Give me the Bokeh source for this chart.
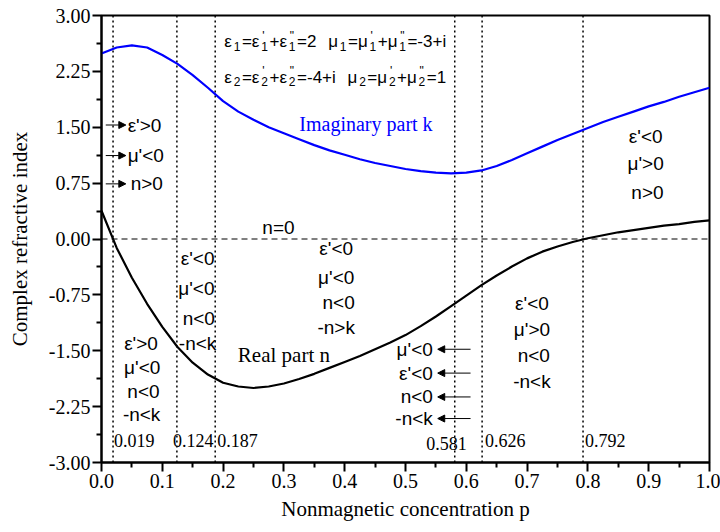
from bokeh.plotting import figure
from bokeh.models import Range1d, FixedTicker, PrintfTickFormatter, Span, Arrow, NormalHead, ColumnDataSource
from bokeh.core.properties import value
from bokeh.embed import file_html
from bokeh.resources import INLINE

# ---------------- data ----------------
p_conc = [0.0, 0.025, 0.05, 0.075, 0.1, 0.125, 0.15, 0.175, 0.2, 0.225,
          0.25, 0.275, 0.3, 0.325, 0.35, 0.375, 0.4, 0.425, 0.45, 0.475,
          0.5, 0.525, 0.55, 0.575, 0.6, 0.625, 0.65, 0.675, 0.7, 0.725,
          0.75, 0.775, 0.8, 0.825, 0.85, 0.875, 0.9, 0.925, 0.95, 0.975, 1.0]
k_imag = [2.49, 2.57, 2.60, 2.57, 2.47, 2.35, 2.20, 2.03, 1.85, 1.71,
          1.60, 1.50, 1.42, 1.34, 1.26, 1.19, 1.13, 1.07, 1.02, 0.98,
          0.94, 0.91, 0.89, 0.88, 0.89, 0.92, 0.98, 1.06, 1.15, 1.24,
          1.33, 1.41, 1.49, 1.57, 1.64, 1.71, 1.78, 1.84, 1.91, 1.97, 2.03]
n_real = [0.38, -0.12, -0.52, -0.87, -1.18, -1.45, -1.66, -1.82, -1.93, -1.98,
          -2.00, -1.98, -1.94, -1.88, -1.81, -1.73, -1.65, -1.57, -1.48, -1.39,
          -1.29, -1.17, -1.04, -0.90, -0.76, -0.62, -0.49, -0.37, -0.26, -0.17,
          -0.10, -0.04, 0.01, 0.05, 0.09, 0.12, 0.15, 0.18, 0.20, 0.23, 0.25]

boundaries = [0.019, 0.124, 0.187, 0.581, 0.626, 0.792]
boundary_labels = ["0.019", "0.124", "0.187", "0.581", "0.626", "0.792"]
boundary_label_dx = [1, -4, 2, 12, 3, 2]
boundary_label_align = ["left", "left", "left", "right", "left", "left"]
boundary_label_y = [-2.70, -2.70, -2.70, -2.74, -2.70, -2.70]

x_ticks = [0.0, 0.1, 0.2, 0.3, 0.4, 0.5, 0.6, 0.7, 0.8, 0.9, 1.0]
x_minor = [0.05, 0.15, 0.25, 0.35, 0.45, 0.55, 0.65, 0.75, 0.85, 0.95]
y_ticks = [-3.0, -2.25, -1.5, -0.75, 0.0, 0.75, 1.5, 2.25, 3.0]
y_minor = [-2.625, -1.875, -1.125, -0.375, 0.375, 1.125, 1.875, 2.625]

# region annotations (centered)
ann_text = ["ε'<0", "μ'<0", "n<0", "-n<k",
            "ε'>0", "μ'<0", "n<0", "-n<k",
            "ε'<0", "μ'<0", "n<0", "-n>k",
            "ε'<0", "μ'>0", "n<0", "-n<k",
            "ε'<0", "μ'>0", "n>0",
            "n=0"]
ann_x = [0.158, 0.156, 0.160, 0.158,
         0.065, 0.067, 0.069, 0.066,
         0.386, 0.386, 0.390, 0.386,
         0.708, 0.708, 0.711, 0.708,
         0.895, 0.895, 0.898,
         0.291]
ann_y = [-0.26, -0.66, -1.07, -1.40,
         -1.40, -1.72, -2.05, -2.36,
         -0.13, -0.52, -0.85, -1.19,
         -0.87, -1.21, -1.56, -1.91,
         1.38, 1.01, 0.62,
         0.155]

# annotations with right-pointing arrows (left side)
arrR_text = ["ε'>0", "μ'<0", "n>0"]
arrR_y = [1.53, 1.12, 0.74]
arrR_x0 = [0.007, 0.007, 0.007]
arrR_x1 = [0.040, 0.040, 0.040]
arrR_tx = [0.043, 0.043, 0.048]

# annotations with left-pointing arrows (near p = 0.581)
arrL_text = ["μ'<0", "ε'<0", "n<0", "-n<k"]
arrL_y = [-1.48, -1.80, -2.12, -2.41]
arrL_x0 = [0.607, 0.607, 0.607, 0.607]
arrL_x1 = [0.553, 0.553, 0.553, 0.553]
arrL_tx = [0.545, 0.545, 0.545, 0.545]

# formula lines (tokens: m = main, s = subscript, ps = prime over subscript, g = gap)
formula1 = [("m", "ε"), ("s", "1"), ("m", "=ε"), ("ps", "'", "1"), ("m", "+ε"), ("ps", '"', "1"),
            ("m", "=2"), ("g", 11), ("m", "μ"), ("s", "1"), ("m", "=μ"), ("ps", "'", "1"),
            ("m", "+μ"), ("ps", '"', "1"), ("m", "=-3+i")]
formula2 = [("m", "ε"), ("s", "2"), ("m", "=ε"), ("ps", "'", "2"), ("m", "+ε"), ("ps", '"', "2"),
            ("m", "=-4+i"), ("g", 11), ("m", "μ"), ("s", "2"), ("m", "=μ"), ("ps", "'", "2"),
            ("m", "+μ"), ("ps", '"', "2"), ("m", "=1")]
formula_x = 0.202
formula_base_y = [2.651, 2.168]

SERIF = "Liberation Serif"
SANS = "Liberation Sans"

# ---------------- figure ----------------
W_FIG, H_FIG = 720, 532
BL, BR, BT, BB = 101, 11, 15, 70
p = figure(width=W_FIG, height=H_FIG, x_range=Range1d(0, 1), y_range=Range1d(-3, 3),
           output_backend="svg", toolbar_location=None,
           min_border_left=BL, min_border_right=BR, min_border_top=BT, min_border_bottom=BB)
px_x = (W_FIG - BL - BR) / 1.0
px_y = (H_FIG - BT - BB) / 6.0

p.grid.visible = False
p.outline_line_color = "black"
p.outline_line_width = 2
p.background_fill_color = "white"
p.border_fill_color = "white"

for ax in (p.xaxis[0], p.yaxis[0]):
    ax.axis_line_width = 2
    ax.major_tick_line_width = 2
    ax.minor_tick_line_width = 2
    ax.major_tick_in = 0
    ax.major_tick_out = 9
    ax.minor_tick_in = 0
    ax.minor_tick_out = 5
    ax.major_label_text_font = SERIF
    ax.major_label_text_font_size = "20px"
    ax.major_label_text_color = "black"
    ax.axis_label_text_font = SERIF
    ax.axis_label_text_font_size = "21px"
    ax.axis_label_text_font_style = "normal"
    ax.axis_label_text_color = "black"
    ax.major_label_standoff = 2

p.xaxis.ticker = FixedTicker(ticks=x_ticks, minor_ticks=x_minor)
p.yaxis.ticker = FixedTicker(ticks=y_ticks, minor_ticks=y_minor)
p.xaxis.formatter = PrintfTickFormatter(format="%.1f")
p.yaxis.formatter = PrintfTickFormatter(format="%.2f")
p.xaxis.axis_label = "Nonmagnetic concentration p"
p.yaxis.axis_label = "Complex refractive index"
p.xaxis.axis_label_standoff = 6
p.yaxis.axis_label_standoff = 14

# zero line
p.add_layout(Span(location=0, dimension="width", line_color="black", line_width=1, line_dash="6 4"))

# boundary dotted lines
p.segment(x0=boundaries, y0=[-3] * len(boundaries), x1=boundaries, y1=[3] * len(boundaries),
          line_color="black", line_width=1.5, line_dash=value("2 3"))
p.text(x=boundaries, y=boundary_label_y, text=boundary_labels, x_offset=boundary_label_dx,
       text_align=boundary_label_align, text_baseline="middle",
       text_font=value(SERIF), text_font_size="18px", text_color="black")

# curves
p.line(p_conc, k_imag, line_color="#0000ff", line_width=2.2)
p.line(p_conc, n_real, line_color="black", line_width=2.2)

# curve labels
p.text(x=[0.435], y=[1.54], text=["Imaginary part k"], text_align="center", text_baseline="middle",
       text_font=value(SERIF), text_font_size="20px", text_color="#0000ff")
p.text(x=[0.300], y=[-1.56], text=["Real part n"], text_align="center", text_baseline="middle",
       text_font=value(SERIF), text_font_size="21px", text_color="black")

# region annotations
p.text(x=ann_x, y=ann_y, text=ann_text, text_align="center", text_baseline="middle",
       text_font=value(SANS), text_font_size="19px", text_color="black")

# arrows to the right
p.add_layout(Arrow(end=NormalHead(size=7, fill_color="black", line_color="black"),
                   x_start="x0", y_start="y", x_end="x1", y_end="y", line_width=1, line_color="black",
                   source=ColumnDataSource(dict(x0=arrR_x0, x1=arrR_x1, y=arrR_y))))
p.text(x=arrR_tx, y=arrR_y, text=arrR_text, text_align="left", text_baseline="middle",
       text_font=value(SANS), text_font_size="19px", text_color="black")

# arrows to the left
p.add_layout(Arrow(end=NormalHead(size=7, fill_color="black", line_color="black"),
                   x_start="x0", y_start="y", x_end="x1", y_end="y", line_width=1, line_color="black",
                   source=ColumnDataSource(dict(x0=arrL_x0, x1=arrL_x1, y=arrL_y))))
p.text(x=arrL_tx, y=arrL_y, text=arrL_text, text_align="right", text_baseline="middle",
       text_font=value(SANS), text_font_size="19px", text_color="black")

# formulas built from pieces
EM = {"ε": 0.45, "μ": 0.577, "=": 0.584, "+": 0.584, "-": 0.333, "i": 0.222, " ": 0.278,
      "'": 0.191, '"': 0.355}
def wid(s, size):
    return sum(EM.get(c, 0.556) for c in s) * size

MAIN, SUB = 17, 12
main_x, main_y, main_t = [], [], []
sub_x, sub_y, sub_t = [], [], []
for tokens, base in zip((formula1, formula2), formula_base_y):
    xp = 0.0
    for tok in tokens:
        if tok[0] == "m":
            main_x.append(formula_x + xp / px_x); main_y.append(base); main_t.append(tok[1])
            xp += wid(tok[1], MAIN) + 0.8
        elif tok[0] == "s":
            sub_x.append(formula_x + (xp + 1) / px_x); sub_y.append(base - 4.5 / px_y); sub_t.append(tok[1])
            xp += wid(tok[1], SUB) + 2.5
        elif tok[0] == "ps":
            sub_x.append(formula_x + (xp + 2) / px_x); sub_y.append(base + 6 / px_y); sub_t.append(tok[1])
            sub_x.append(formula_x + (xp + 1) / px_x); sub_y.append(base - 4.5 / px_y); sub_t.append(tok[2])
            xp += max(wid(tok[1], SUB), wid(tok[2], SUB)) + 2.5
        else:
            xp += tok[1]

p.text(x=main_x, y=main_y, text=main_t, text_align="left", text_baseline="alphabetic",
       text_font=value(SANS), text_font_size=f"{MAIN}px", text_color="black")
p.text(x=sub_x, y=sub_y, text=sub_t, text_align="left", text_baseline="alphabetic",
       text_font=value(SANS), text_font_size=f"{SUB}px", text_color="black")

open("out.html", "w").write(file_html(p, INLINE))
